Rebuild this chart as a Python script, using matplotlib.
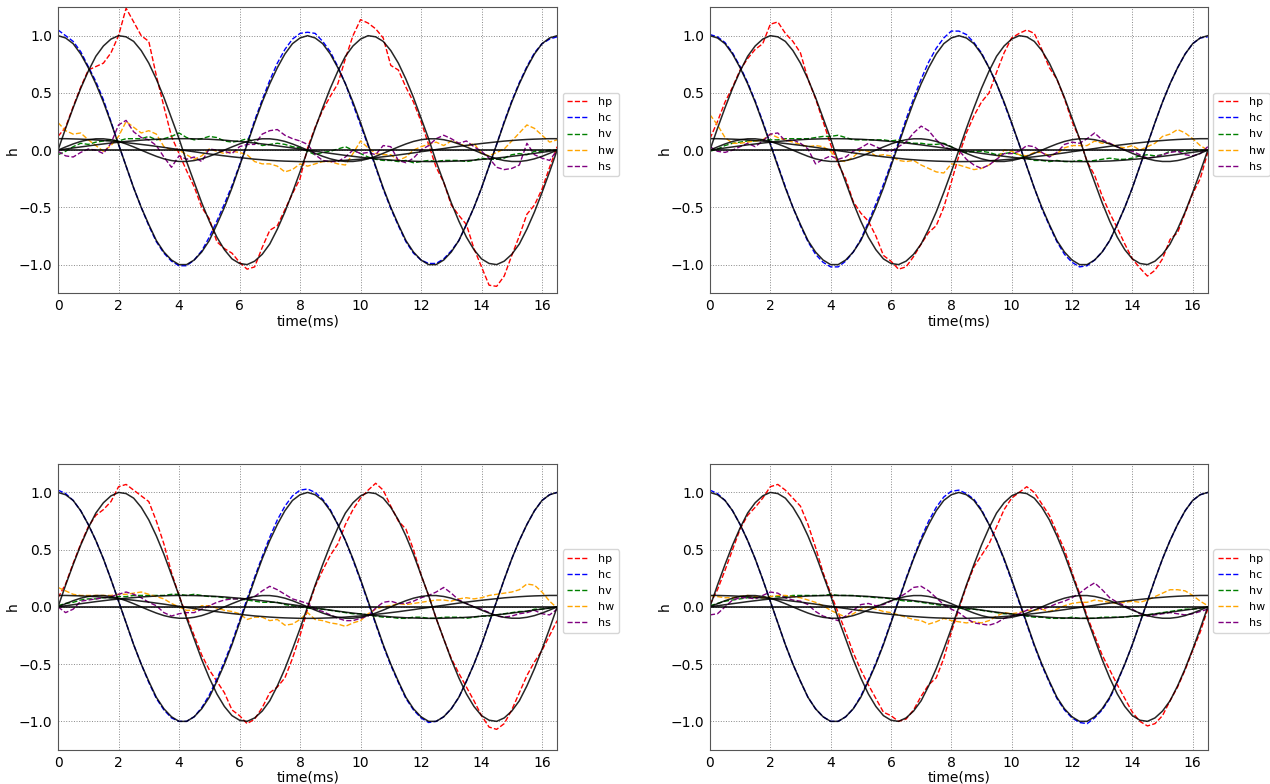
import numpy as np
import matplotlib
matplotlib.use("Agg")
import matplotlib.pyplot as plt

# time axis (ms), 0.25 ms step
t = np.arange(67) * 0.25

# black reference curves (same on every panel)
ref_cos = [1.00, 0.98, 0.93, 0.84, 0.72, 0.58, 0.42, 0.24, 0.05, -0.14, -0.33, -0.50, -0.65, -0.79, -0.89, -0.96, -1.00,
           -1.00, -0.96, -0.89, -0.79, -0.65, -0.50, -0.33, -0.14, 0.05, 0.24, 0.42, 0.58, 0.72, 0.84, 0.93, 0.98, 1.00,
           0.98, 0.93, 0.84, 0.72, 0.58, 0.42, 0.24, 0.05, -0.14, -0.33, -0.50, -0.65, -0.79, -0.89, -0.96, -1.00,
           -1.00, -0.96, -0.89, -0.79, -0.65, -0.50, -0.33, -0.14, 0.05, 0.24, 0.42, 0.58, 0.72, 0.84, 0.93, 0.98, 1.00]
ref_sin = [0.00, 0.19, 0.37, 0.54, 0.69, 0.82, 0.91, 0.97, 1.00, 0.99, 0.95, 0.87, 0.76, 0.62, 0.46, 0.28, 0.10,
           -0.10, -0.28, -0.46, -0.62, -0.76, -0.87, -0.95, -0.99, -1.00, -0.97, -0.91, -0.82, -0.69, -0.54, -0.37, -0.19, 0.00,
           0.19, 0.37, 0.54, 0.69, 0.82, 0.91, 0.97, 1.00, 0.99, 0.95, 0.87, 0.76, 0.62, 0.46, 0.28, 0.10,
           -0.10, -0.28, -0.46, -0.62, -0.76, -0.87, -0.95, -0.99, -1.00, -0.97, -0.91, -0.82, -0.69, -0.54, -0.37, -0.19, 0.00]
ref_slow_cos = [0.100, 0.100, 0.098, 0.096, 0.093, 0.089, 0.084, 0.079, 0.072, 0.065, 0.058, 0.050, 0.042, 0.033, 0.024, 0.014, 0.005,
                -0.005, -0.014, -0.024, -0.033, -0.042, -0.050, -0.058, -0.065, -0.072, -0.079, -0.084, -0.089, -0.093, -0.096, -0.098, -0.100, -0.100,
                -0.100, -0.098, -0.096, -0.093, -0.089, -0.084, -0.079, -0.072, -0.065, -0.058, -0.050, -0.042, -0.033, -0.024, -0.014, -0.005,
                0.005, 0.014, 0.024, 0.033, 0.042, 0.050, 0.058, 0.065, 0.072, 0.079, 0.084, 0.089, 0.093, 0.096, 0.098, 0.100, 0.100]
ref_slow_sin = [0.000, 0.010, 0.019, 0.028, 0.037, 0.046, 0.054, 0.062, 0.069, 0.076, 0.081, 0.087, 0.091, 0.095, 0.097, 0.099, 0.100,
                0.100, 0.099, 0.097, 0.095, 0.091, 0.087, 0.081, 0.076, 0.069, 0.062, 0.054, 0.046, 0.037, 0.028, 0.019, 0.010, 0.000,
                -0.010, -0.019, -0.028, -0.037, -0.046, -0.054, -0.062, -0.069, -0.076, -0.081, -0.087, -0.091, -0.095, -0.097, -0.099, -0.100,
                -0.100, -0.099, -0.097, -0.095, -0.091, -0.087, -0.081, -0.076, -0.069, -0.062, -0.054, -0.046, -0.037, -0.028, -0.019, -0.010, 0.000]
ref_fast_sin = [0.000, 0.028, 0.054, 0.076, 0.091, 0.099, 0.099, 0.091, 0.076, 0.054, 0.028,
                0.000, -0.028, -0.054, -0.076, -0.091, -0.099, -0.099, -0.091, -0.076, -0.054, -0.028,
                0.000, 0.028, 0.054, 0.076, 0.091, 0.099, 0.099, 0.091, 0.076, 0.054, 0.028,
                0.000, -0.028, -0.054, -0.076, -0.091, -0.099, -0.099, -0.091, -0.076, -0.054, -0.028,
                0.000, 0.028, 0.054, 0.076, 0.091, 0.099, 0.099, 0.091, 0.076, 0.054, 0.028,
                0.000, -0.028, -0.054, -0.076, -0.091, -0.099, -0.099, -0.091, -0.076, -0.054, -0.028, 0.000]
ref_flat = 0.0

# ---- top left ----
hp_tl = [0.12, 0.20, 0.38, 0.55, 0.70, 0.73, 0.76, 0.85, 1.00, 1.24, 1.12, 1.00, 0.95, 0.65, 0.38, 0.12, -0.03,
         -0.18, -0.32, -0.50, -0.60, -0.80, -0.86, -0.90, -0.98, -1.04, -1.02, -0.85, -0.70, -0.66, -0.52, -0.38, -0.25, 0.02,
         0.20, 0.35, 0.47, 0.58, 0.80, 1.00, 1.14, 1.11, 1.06, 0.98, 0.74, 0.70, 0.55, 0.42, 0.25, 0.05,
         -0.15, -0.28, -0.48, -0.57, -0.65, -0.86, -1.02, -1.18, -1.19, -1.10, -0.92, -0.75, -0.56, -0.48, -0.34, -0.15, 0.03]
hc_tl = [1.05, 1.00, 0.95, 0.86, 0.73, 0.60, 0.44, 0.25, 0.05, -0.14, -0.33, -0.50, -0.66, -0.80, -0.90, -0.97, -1.01,
         -1.01, -0.96, -0.88, -0.76, -0.62, -0.47, -0.31, -0.13, 0.06, 0.26, 0.44, 0.61, 0.76, 0.88, 0.97, 1.02, 1.03,
         1.02, 0.95, 0.86, 0.73, 0.58, 0.40, 0.22, 0.04, -0.15, -0.34, -0.51, -0.66, -0.80, -0.90, -0.96, -0.99,
         -0.99, -0.95, -0.88, -0.79, -0.65, -0.50, -0.33, -0.14, 0.05, 0.25, 0.43, 0.59, 0.73, 0.85, 0.93, 0.97, 0.99]
hv_tl = [-0.04, -0.01, 0.03, 0.06, 0.05, 0.07, 0.08, 0.09, 0.08, 0.10, 0.10, 0.10, 0.12, 0.09, 0.10, 0.12, 0.15,
         0.11, 0.09, 0.10, 0.12, 0.11, 0.08, 0.07, 0.08, 0.10, 0.07, 0.04, 0.05, 0.06, 0.05, 0.03, 0.02, -0.01,
         -0.04, -0.02, -0.01, 0.01, 0.03, 0.00, -0.03, -0.06, -0.08, -0.09, -0.09, -0.10, -0.09, -0.11, -0.10, -0.09,
         -0.10, -0.09, -0.09, -0.09, -0.10, -0.09, -0.07, -0.08, -0.08, -0.07, -0.04, -0.03, -0.04, -0.01, -0.01, 0.00, 0.00]
hw_tl = [0.24, 0.17, 0.14, 0.15, 0.09, 0.04, -0.01, 0.04, 0.12, 0.25, 0.20, 0.15, 0.17, 0.14, 0.03, 0.00, 0.00,
         -0.04, -0.08, -0.05, 0.01, -0.01, -0.03, -0.01, -0.02, -0.04, -0.10, -0.12, -0.12, -0.14, -0.19, -0.17, -0.12, -0.14,
         -0.12, -0.10, -0.10, -0.12, -0.13, -0.03, 0.08, 0.02, -0.03, -0.04, -0.04, -0.09, -0.06, 0.00, 0.03, 0.05,
         0.07, 0.04, 0.08, 0.06, 0.03, 0.06, -0.03, -0.05, -0.02, 0.01, 0.08, 0.15, 0.22, 0.19, 0.13, 0.07, 0.09]
hs_tl = [-0.01, -0.05, -0.06, -0.02, 0.01, 0.00, -0.03, 0.06, 0.22, 0.26, 0.16, 0.11, 0.09, 0.04, -0.06, -0.15, -0.05,
         -0.08, -0.06, -0.10, 0.01, 0.00, -0.01, -0.03, 0.03, 0.05, 0.05, 0.14, 0.17, 0.18, 0.13, 0.10, 0.08, 0.05,
         -0.04, -0.09, -0.10, -0.10, -0.06, 0.00, -0.03, -0.02, -0.04, 0.04, 0.03, -0.09, -0.11, -0.07, 0.00, 0.04,
         0.10, 0.13, 0.10, 0.06, 0.08, 0.03, -0.01, -0.07, -0.15, -0.17, -0.16, -0.13, 0.06, -0.04, -0.07, -0.09, 0.00]

# ---- top right ----
hp_tr = [0.10, 0.25, 0.42, 0.55, 0.70, 0.80, 0.88, 0.93, 1.10, 1.12, 1.02, 0.95, 0.85, 0.62, 0.45, 0.25, 0.05,
         -0.12, -0.25, -0.45, -0.55, -0.62, -0.75, -0.92, -0.97, -1.04, -1.02, -0.93, -0.82, -0.72, -0.66, -0.50, -0.28, -0.05,
         0.15, 0.30, 0.42, 0.50, 0.68, 0.85, 0.98, 1.02, 1.05, 1.02, 0.88, 0.72, 0.62, 0.45, 0.25, 0.10,
         -0.10, -0.22, -0.40, -0.55, -0.68, -0.82, -0.95, -1.03, -1.10, -1.05, -0.95, -0.78, -0.72, -0.55, -0.38, -0.25, -0.02]
hc_tr = [1.01, 0.99, 0.94, 0.85, 0.73, 0.59, 0.43, 0.25, 0.06, -0.13, -0.32, -0.50, -0.66, -0.80, -0.91, -0.98, -1.02,
         -1.02, -0.97, -0.89, -0.78, -0.63, -0.47, -0.30, -0.12, 0.07, 0.27, 0.45, 0.62, 0.77, 0.89, 0.98, 1.04, 1.04,
         1.01, 0.94, 0.85, 0.72, 0.58, 0.41, 0.23, 0.05, -0.14, -0.33, -0.51, -0.66, -0.80, -0.91, -0.98, -1.02,
         -1.01, -0.96, -0.89, -0.79, -0.65, -0.50, -0.33, -0.14, 0.05, 0.24, 0.42, 0.58, 0.72, 0.84, 0.93, 0.98, 0.99]
hv_tr = [-0.01, 0.01, 0.04, 0.06, 0.07, 0.08, 0.08, 0.09, 0.09, 0.09, 0.10, 0.10, 0.10, 0.10, 0.11, 0.12, 0.12,
         0.13, 0.11, 0.09, 0.09, 0.09, 0.09, 0.09, 0.08, 0.09, 0.07, 0.06, 0.06, 0.05, 0.05, 0.06, 0.03, -0.01,
         -0.02, -0.01, -0.01, -0.02, -0.04, -0.03, -0.02, -0.04, -0.07, -0.09, -0.09, -0.10, -0.09, -0.10, -0.10, -0.09,
         -0.10, -0.09, -0.08, -0.07, -0.08, -0.08, -0.07, -0.05, -0.04, -0.05, -0.04, -0.01, -0.01, -0.01, 0.00, 0.00, 0.00]
hw_tr = [0.31, 0.22, 0.11, 0.06, 0.06, 0.07, 0.08, 0.09, 0.14, 0.11, 0.09, 0.07, 0.05, 0.03, 0.04, 0.03, -0.01,
         -0.09, -0.10, -0.06, 0.00, -0.01, -0.05, -0.04, -0.05, -0.09, -0.10, -0.09, -0.13, -0.16, -0.19, -0.20, -0.12, -0.13,
         -0.15, -0.17, -0.16, -0.13, -0.08, 0.00, -0.01, -0.04, -0.05, -0.02, -0.02, -0.05, -0.03, 0.02, 0.04, 0.04,
         0.04, 0.08, 0.06, 0.06, 0.03, 0.02, 0.04, 0.00, 0.03, 0.06, 0.12, 0.14, 0.18, 0.15, 0.10, 0.04, 0.00]
hs_tr = [0.03, -0.01, -0.02, 0.00, 0.03, 0.06, 0.03, 0.08, 0.14, 0.15, 0.08, 0.09, 0.06, 0.01, -0.12, -0.08, -0.05,
         -0.08, -0.06, -0.01, 0.02, 0.06, 0.03, 0.00, -0.01, 0.03, 0.07, 0.15, 0.21, 0.17, 0.09, 0.03, 0.00, 0.00,
         -0.08, -0.13, -0.16, -0.13, -0.08, -0.03, -0.03, -0.01, 0.04, 0.03, -0.02, -0.06, -0.02, 0.05, 0.07, 0.06,
         0.10, 0.15, 0.09, 0.06, 0.03, 0.00, -0.01, -0.04, -0.07, -0.06, -0.04, -0.02, -0.01, -0.04, -0.05, -0.03, 0.03]

# ---- bottom left ----
hp_bl = [0.08, 0.20, 0.38, 0.55, 0.70, 0.80, 0.85, 0.92, 1.05, 1.07, 1.02, 0.97, 0.92, 0.75, 0.55, 0.30, 0.10,
         -0.08, -0.25, -0.42, -0.55, -0.65, -0.75, -0.90, -0.95, -1.02, -0.98, -0.88, -0.75, -0.70, -0.62, -0.45, -0.25, -0.02,
         0.18, 0.32, 0.45, 0.55, 0.72, 0.85, 0.95, 1.02, 1.08, 1.02, 0.88, 0.75, 0.68, 0.50, 0.28, 0.10,
         -0.10, -0.28, -0.45, -0.58, -0.70, -0.82, -0.95, -1.05, -1.07, -1.02, -0.90, -0.75, -0.60, -0.48, -0.38, -0.25, -0.12]
hc_bl = [1.02, 0.99, 0.93, 0.84, 0.72, 0.58, 0.42, 0.24, 0.05, -0.14, -0.33, -0.50, -0.66, -0.80, -0.90, -0.97, -1.00,
         -1.00, -0.96, -0.88, -0.77, -0.63, -0.48, -0.31, -0.12, 0.07, 0.26, 0.44, 0.61, 0.76, 0.88, 0.97, 1.02, 1.03,
         1.00, 0.94, 0.85, 0.72, 0.58, 0.41, 0.23, 0.04, -0.15, -0.34, -0.51, -0.66, -0.80, -0.90, -0.97, -1.01,
         -1.00, -0.96, -0.89, -0.79, -0.65, -0.50, -0.33, -0.14, 0.05, 0.24, 0.42, 0.58, 0.72, 0.84, 0.93, 0.98, 1.00]
hv_bl = [0.01, 0.03, 0.04, 0.06, 0.07, 0.07, 0.08, 0.08, 0.09, 0.09, 0.10, 0.10, 0.10, 0.10, 0.10, 0.11, 0.11,
         0.10, 0.11, 0.10, 0.09, 0.09, 0.08, 0.07, 0.07, 0.06, 0.05, 0.04, 0.04, 0.04, 0.02, 0.01, 0.00, -0.01,
         -0.02, -0.02, -0.03, -0.04, -0.05, -0.06, -0.06, -0.07, -0.08, -0.09, -0.09, -0.10, -0.10, -0.09, -0.09, -0.10,
         -0.10, -0.09, -0.09, -0.09, -0.10, -0.09, -0.08, -0.08, -0.07, -0.06, -0.05, -0.04, -0.04, -0.02, -0.02, -0.01, 0.00]
hw_bl = [0.17, 0.14, 0.11, 0.10, 0.10, 0.10, 0.10, 0.10, 0.11, 0.11, 0.12, 0.13, 0.11, 0.09, 0.07, 0.03, 0.00,
         -0.03, -0.03, 0.01, 0.01, -0.01, -0.03, -0.04, -0.06, -0.11, -0.09, -0.09, -0.12, -0.11, -0.16, -0.15, -0.11, -0.05,
         -0.11, -0.12, -0.14, -0.15, -0.17, -0.14, -0.12, -0.06, -0.02, 0.00, 0.01, 0.03, 0.02, 0.03, 0.04, 0.05,
         0.06, 0.06, 0.05, 0.07, 0.08, 0.07, 0.08, 0.10, 0.11, 0.12, 0.13, 0.15, 0.20, 0.19, 0.13, 0.05, -0.01]
hs_bl = [0.00, -0.05, -0.02, 0.05, 0.06, 0.07, 0.08, 0.09, 0.11, 0.13, 0.11, 0.08, 0.04, 0.01, -0.05, -0.08, -0.06,
         -0.05, -0.05, -0.02, 0.01, 0.04, 0.06, 0.07, 0.07, 0.07, 0.09, 0.14, 0.18, 0.15, 0.11, 0.07, 0.05, 0.03,
         -0.02, -0.04, -0.07, -0.10, -0.12, -0.12, -0.10, -0.08, -0.01, 0.04, 0.05, 0.03, 0.03, 0.05, 0.08, 0.10,
         0.13, 0.17, 0.12, 0.06, 0.03, 0.00, -0.02, -0.05, -0.08, -0.09, -0.08, -0.06, -0.05, -0.03, -0.06, -0.07, -0.02]

# ---- bottom right ----
hp_br = [0.02, 0.15, 0.32, 0.50, 0.68, 0.80, 0.87, 0.95, 1.05, 1.07, 1.02, 0.95, 0.88, 0.72, 0.52, 0.30, 0.12,
         -0.05, -0.22, -0.40, -0.55, -0.68, -0.80, -0.92, -0.95, -1.00, -0.98, -0.90, -0.78, -0.68, -0.62, -0.45, -0.22, -0.02,
         0.18, 0.35, 0.45, 0.55, 0.70, 0.85, 0.95, 1.00, 1.05, 1.00, 0.90, 0.80, 0.65, 0.50, 0.30, 0.12,
         -0.08, -0.25, -0.42, -0.55, -0.68, -0.80, -0.92, -1.00, -1.04, -1.02, -0.95, -0.82, -0.70, -0.55, -0.38, -0.22, -0.02]
hc_br = [1.02, 0.99, 0.93, 0.84, 0.72, 0.58, 0.42, 0.24, 0.05, -0.14, -0.33, -0.50, -0.65, -0.79, -0.89, -0.96, -1.00,
         -1.00, -0.96, -0.89, -0.78, -0.64, -0.49, -0.32, -0.13, 0.06, 0.25, 0.43, 0.60, 0.75, 0.87, 0.96, 1.01, 1.02,
         0.99, 0.94, 0.85, 0.72, 0.58, 0.41, 0.23, 0.04, -0.15, -0.34, -0.51, -0.66, -0.80, -0.90, -0.97, -1.01,
         -1.02, -0.97, -0.90, -0.80, -0.66, -0.50, -0.33, -0.14, 0.05, 0.24, 0.42, 0.58, 0.72, 0.84, 0.93, 0.98, 1.00]
hv_br = [0.01, 0.03, 0.05, 0.06, 0.07, 0.08, 0.08, 0.08, 0.09, 0.09, 0.09, 0.10, 0.10, 0.10, 0.10, 0.10, 0.11,
         0.10, 0.10, 0.10, 0.09, 0.09, 0.08, 0.08, 0.07, 0.06, 0.05, 0.05, 0.04, 0.03, 0.02, 0.01, 0.00, -0.01,
         -0.02, -0.02, -0.03, -0.04, -0.05, -0.06, -0.06, -0.07, -0.08, -0.09, -0.09, -0.10, -0.10, -0.10, -0.09, -0.10,
         -0.10, -0.10, -0.09, -0.09, -0.09, -0.09, -0.08, -0.08, -0.07, -0.06, -0.05, -0.04, -0.03, -0.02, -0.02, -0.01, 0.00]
hw_br = [0.10, 0.09, 0.08, 0.08, 0.09, 0.10, 0.09, 0.08, 0.09, 0.10, 0.10, 0.09, 0.08, 0.06, 0.04, 0.01, -0.03,
         -0.06, -0.09, -0.06, -0.02, 0.00, -0.02, -0.04, -0.05, -0.07, -0.09, -0.11, -0.12, -0.15, -0.13, -0.10, -0.12, -0.13,
         -0.14, -0.13, -0.14, -0.12, -0.08, -0.05, -0.06, -0.05, -0.03, -0.03, -0.02, -0.04, -0.02, 0.01, 0.03, 0.04,
         0.04, 0.06, 0.05, 0.04, 0.03, 0.04, 0.05, 0.04, 0.06, 0.09, 0.12, 0.15, 0.15, 0.14, 0.10, 0.05, 0.01]
hs_br = [-0.07, -0.06, 0.00, 0.06, 0.08, 0.08, 0.07, 0.10, 0.13, 0.12, 0.08, 0.06, 0.05, 0.02, -0.04, -0.08, -0.10,
         -0.12, -0.08, -0.03, 0.02, 0.03, 0.01, 0.02, 0.05, 0.08, 0.12, 0.17, 0.18, 0.14, 0.08, 0.02, -0.02, -0.05,
         -0.10, -0.14, -0.15, -0.16, -0.14, -0.10, -0.08, -0.06, -0.03, 0.00, -0.02, 0.00, 0.03, 0.05, 0.08, 0.12,
         0.17, 0.21, 0.15, 0.08, 0.04, 0.01, -0.02, -0.06, -0.08, -0.07, -0.06, -0.05, -0.06, -0.07, -0.06, -0.04, -0.02]

panels = [
    (hp_tl, hc_tl, hv_tl, hw_tl, hs_tl),
    (hp_tr, hc_tr, hv_tr, hw_tr, hs_tr),
    (hp_bl, hc_bl, hv_bl, hw_bl, hs_bl),
    (hp_br, hc_br, hv_br, hw_br, hs_br),
]
names = ["hp", "hc", "hv", "hw", "hs"]
colors = ["red", "blue", "green", "orange", "purple"]

fig = plt.figure(figsize=(12.7, 7.84), dpi=100)
ax_rects = [
    [0.0457, 0.626, 0.393, 0.365],
    [0.559, 0.626, 0.392, 0.365],
    [0.0457, 0.0434, 0.393, 0.365],
    [0.559, 0.0434, 0.392, 0.365],
]

for rect, series in zip(ax_rects, panels):
    ax = fig.add_axes(rect)
    for vals, name, col in zip(series, names, colors):
        ax.plot(t, vals, linestyle="--", color=col, linewidth=1.0, label=name)
    # reference curves
    for ref in [ref_cos, ref_sin, ref_slow_cos, ref_slow_sin, ref_fast_sin]:
        ax.plot(t, ref, color="black", linewidth=1.1, alpha=0.85)
    ax.axhline(ref_flat, color="black", linewidth=1.1)
    ax.set_xlim(0, 16.5)
    ax.set_ylim(-1.25, 1.25)
    ax.set_xticks([0, 2, 4, 6, 8, 10, 12, 14, 16])
    ax.set_yticks([-1.0, -0.5, 0.0, 0.5, 1.0])
    ax.grid(True, linestyle=":", color="#888888", linewidth=0.7)
    ax.tick_params(labelsize=10, length=0, pad=4)
    for sp in ax.spines.values():
        sp.set_color("#555555")
    ax.set_xlabel("time(ms)", fontsize=10, labelpad=1)
    ax.set_ylabel("h", fontsize=10)
    ax.yaxis.set_label_coords(-0.077, 0.5)
    ax.legend(loc="upper left", bbox_to_anchor=(1.0, 0.72), fontsize=8,
              labelspacing=0.55, handlelength=2.0)

fig.savefig("out.png", dpi=100)
